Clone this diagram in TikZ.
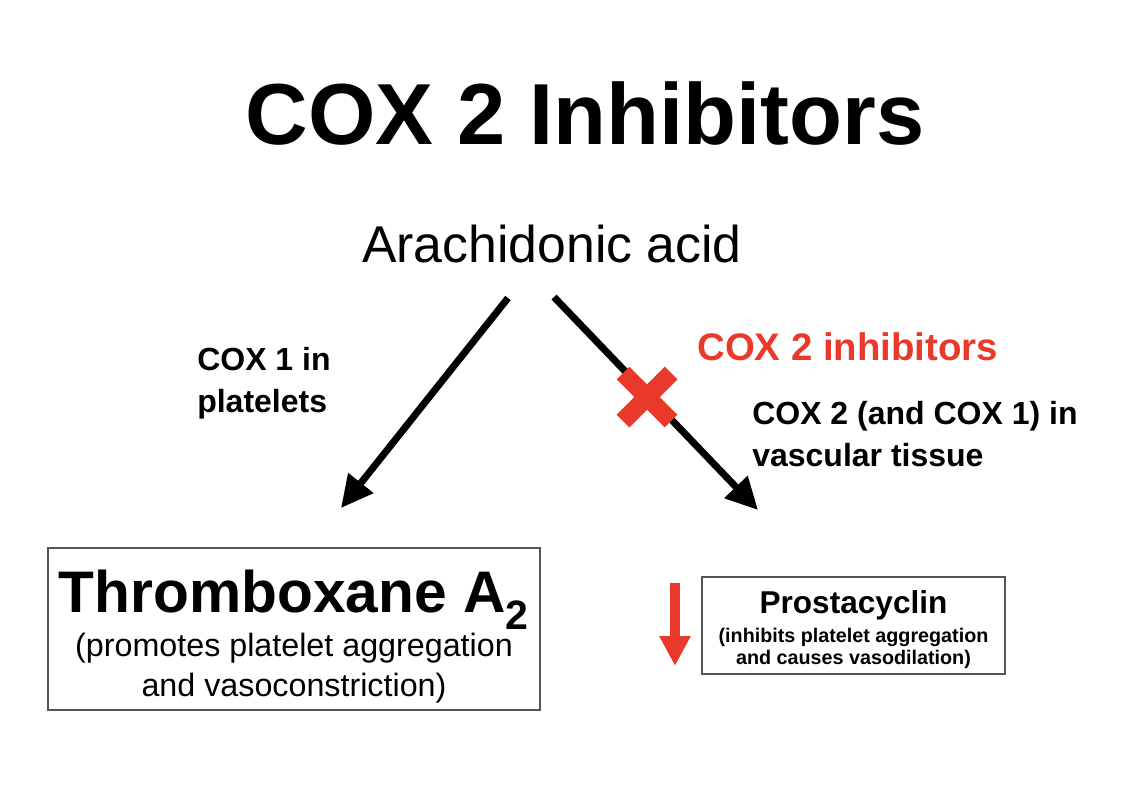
\documentclass[tikz,border=0pt]{standalone}
\usepackage{fontspec}
\setmainfont{Liberation Sans}
\usepackage{xcolor}
\usetikzlibrary{arrows.meta, positioning}

\definecolor{coxred}{HTML}{E8392A}
\definecolor{boxgray}{HTML}{555555}

\begin{document}
\begin{tikzpicture}[
  x=0.75pt,
  y=-0.75pt,
  steplabel/.style={
    align=left,
    anchor=west,
    inner sep=0pt,
    font=\fontsize{24}{31.5}\selectfont\bfseries
  },
  resultbox/.style={
    rectangle,
    draw=boxgray,
    line width=1.1pt,
    align=center,
    inner sep=0pt
  },
  flowarrow/.style={
    -{Triangle[length=24pt,width=23pt]},
    line width=5.25pt,
    draw=black
  },
  downarrow/.style={
    -{Triangle[length=22.5pt,width=22pt]},
    line width=7.5pt,
    draw=coxred
  },
  blockmark/.style={
    line width=13.5pt,
    draw=coxred
  }
]

\useasboundingbox (0,0) rectangle (1126,808);

\node[font=\fontsize{65}{78}\selectfont\bfseries] (title) at (585,114) {COX 2 Inhibitors};

\node[font=\fontsize{38.8}{46}\selectfont] (arachidonic) at (552,244) {Arachidonic acid};

\node[steplabel] (cox1label) at (197,383) {COX 1 in\\platelets};

\node[steplabel, font=\fontsize{28.8}{34}\selectfont\bfseries, text=coxred] (inhibitorlabel) at (697,347) {COX 2 inhibitors};

\node[steplabel] (cox2label) at (752,434) {COX 2 (and COX 1) in\\vascular tissue};

\node[resultbox, minimum width=369pt, minimum height=121.5pt,
      font=\fontsize{24.2}{30}\selectfont] (thromboxane) at (294,629) {
  {\fontsize{44}{50}\selectfont\bfseries\rule{0pt}{43.5pt}Thromboxane A\textsubscript{2}}\\[1.5pt]
  (promotes platelet aggregation\\
  and vasoconstriction)
};

\node[resultbox, minimum width=227pt, minimum height=73pt,
      font=\fontsize{14.8}{16.5}\selectfont\bfseries] (prostacyclin) at (853.5,625.5) {
  {\fontsize{23.7}{28}\selectfont\rule{0pt}{23.3pt}Prostacyclin}\\[5.25pt]
  (inhibits platelet aggregation\\
  and causes vasodilation)
};

% arrow ends
\coordinate (leftstart) at (508,298);
\coordinate (rightstart) at (554,297);
\coordinate (leftend) at (341,508);
\coordinate (rightend) at (758,510);
\coordinate (block) at (647,397);
\coordinate (downtop) at (675,583);
\coordinate (downend) at (675,666);

\draw[flowarrow] (leftstart) -- (leftend);
\draw[flowarrow] (rightstart) -- (rightend);

\draw[blockmark] ([shift={(-24,-24)}]block) -- ([shift={(24,24)}]block);
\draw[blockmark] ([shift={(24,-24)}]block) -- ([shift={(-24,24)}]block);

\draw[downarrow] (downtop) -- (downend);

\end{tikzpicture}
\end{document}
